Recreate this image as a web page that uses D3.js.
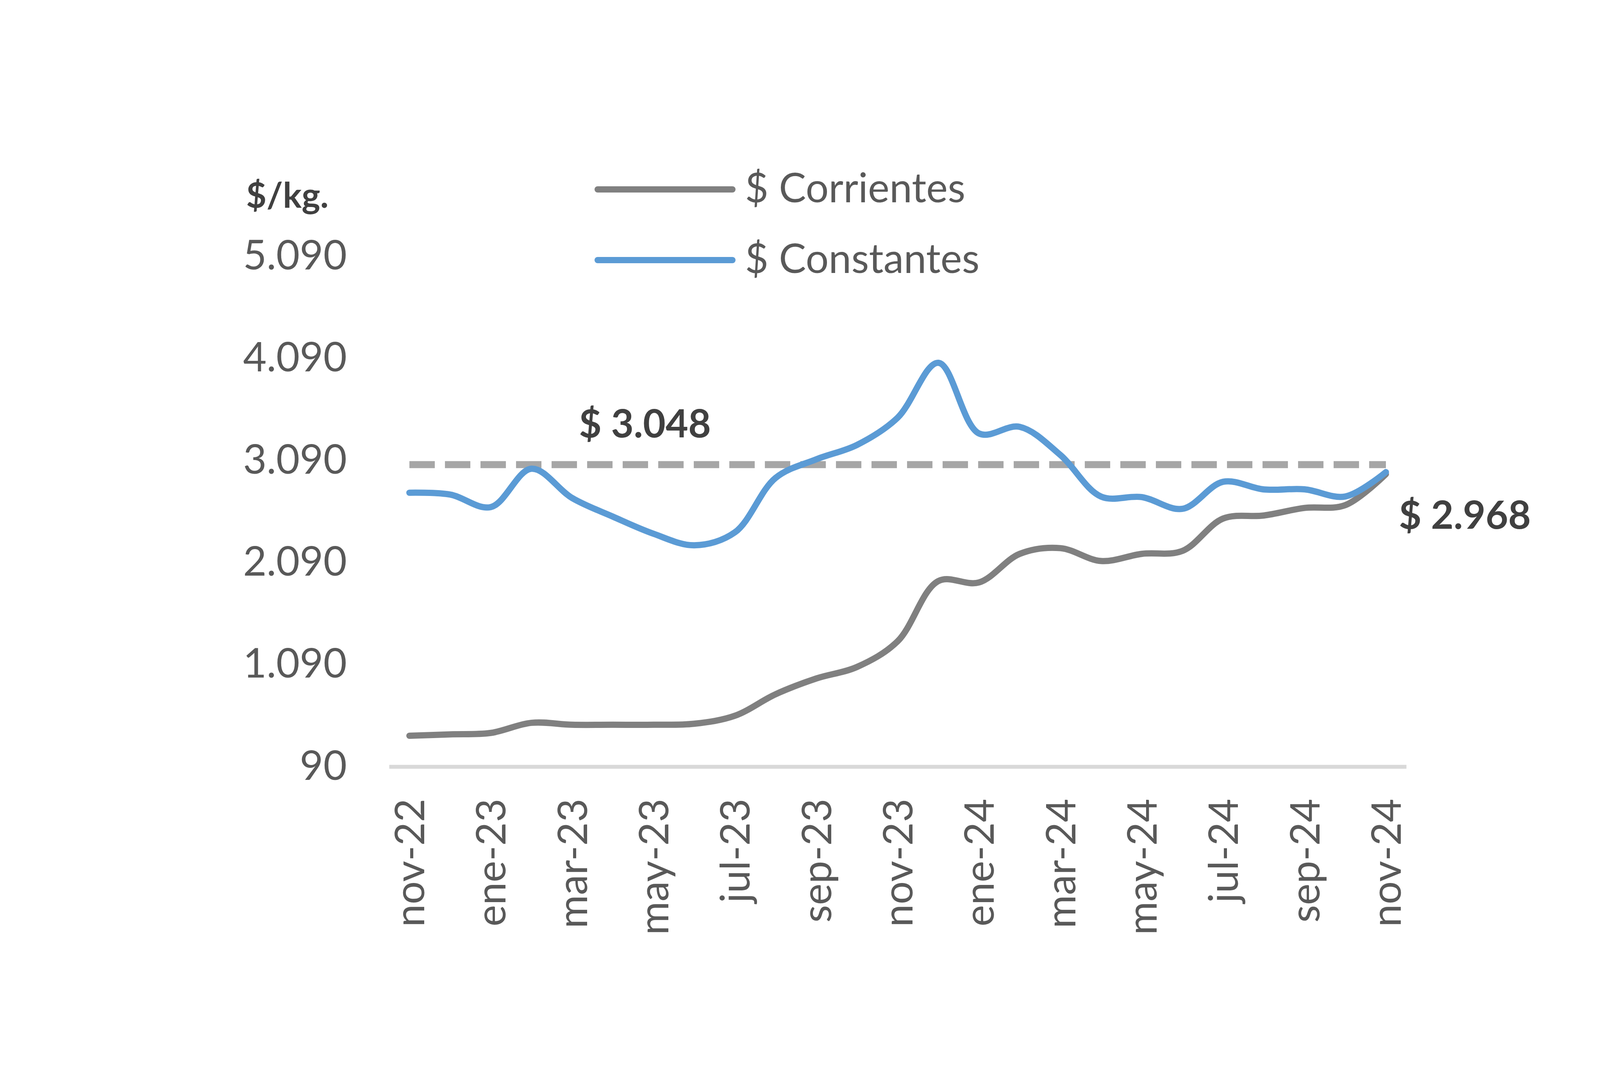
<!DOCTYPE html>
<html>
<head>
<meta charset="utf-8">
<script src="https://cdn.jsdelivr.net/npm/d3@7"></script>
<style>
  html, body { margin: 0; padding: 0; background: #ffffff; }
  .vis-linechart text { font-family: Lato, "Open Sans", sans-serif; }
</style>
</head>
<body>
<div class="vis-linechart"></div>
<script>
// months shown on the category axis
const months = ['nov-22', 'dic-22', 'ene-23', 'feb-23', 'mar-23', 'abr-23', 'may-23', 'jun-23',
    'jul-23', 'ago-23', 'sep-23', 'oct-23', 'nov-23', 'dic-23', 'ene-24', 'feb-24', 'mar-24',
    'abr-24', 'may-24', 'jun-24', 'jul-24', 'ago-24', 'sep-24', 'oct-24', 'nov-24'];
const monthTicks = ['nov-22', 'ene-23', 'mar-23', 'may-23', 'jul-23', 'sep-23', 'nov-23',
    'ene-24', 'mar-24', 'may-24', 'jul-24', 'sep-24', 'nov-24'];

// $/kg
const corrientes = [392, 406, 420, 519, 500, 500, 500, 510, 588, 799, 953, 1066, 1318, 1908,
    1894, 2174, 2230, 2104, 2174, 2203, 2520, 2550, 2624, 2651, 2955];
const constantes = [2773, 2755, 2632, 3008, 2721, 2539, 2371, 2258, 2385, 2918, 3100, 3241,
    3508, 4046, 3353, 3418, 3142, 2735, 2730, 2615, 2880, 2805, 2806, 2736, 2975];

const promedio = 3048;
const ultimo = 2968;
const yTicks = [90, 1090, 2090, 3090, 4090, 5090];

const seriesNames = ['$ Corrientes', '$ Constantes'];
const seriesColors = ['#808080', '#5b9bd5'];

const width = 4500;
const height = 2786;

const svg = d3.select('.vis-linechart')
    .append('svg')
    .attr('width', width)
    .attr('height', height);

svg.append('rect')
    .attr('width', width)
    .attr('height', height)
    .attr('fill', '#ffffff');

const locale = d3.formatLocale({ decimal: ',', thousands: '.', grouping: [3], currency: ['$', ''] });
const fmt = locale.format(',');

// X channel
let x = d3.scalePoint()
    .domain(months)
    .range([996, 3600])
    .padding(0.5);

// Y channel
let y = d3.scaleLinear()
    .domain([90, 5090])
    .range([1963, 656]);

// x axis (line + rotated month labels)
let xAxis = svg.append('g')
    .attr('class', 'x_axis')
    .attr('transform', 'translate(0,' + y(90) + ')')
    .call(d3.axisBottom(x).tickValues(monthTicks).tickSize(0).tickSizeOuter(0));
xAxis.select('.domain')
    .attr('stroke', '#d9d9d9')
    .attr('stroke-width', 10);
xAxis.selectAll('text')
    .attr('transform', 'rotate(-90)')
    .attr('x', -82)
    .attr('y', 0)
    .attr('dy', '0.36em')
    .style('text-anchor', 'end')
    .attr('font-size', '104px')
    .attr('fill', '#595959');

// y axis, labels only
let yAxis = svg.append('g')
    .attr('class', 'y_axis')
    .attr('transform', 'translate(888,0)')
    .call(d3.axisLeft(y).tickValues(yTicks).tickSize(0).tickPadding(0).tickFormat(fmt));
yAxis.select('.domain').remove();
yAxis.selectAll('text')
    .attr('font-size', '104px')
    .attr('fill', '#595959');

svg.append('text')
    .attr('x', 630)
    .attr('y', 532)
    .attr('font-size', '90px')
    .attr('font-weight', 'bold')
    .attr('fill', '#404040')
    .text('$/kg.');

// reference line (average)
let refLine = d3.line()
    .x(d => x(d.m))
    .y(d => y(d.v));
svg.append('path')
    .datum([{ m: months[0], v: promedio }, { m: months[months.length - 1], v: promedio }])
    .attr('d', refLine)
    .attr('fill', 'none')
    .attr('stroke', '#a6a6a6')
    .attr('stroke-width', 18)
    .attr('stroke-dasharray', '65,26');

// series lines
let line = d3.line()
    .x((d, i) => x(months[i]))
    .y(d => y(d))
    .curve(d3.curveCatmullRom.alpha(0.5));

[corrientes, constantes].forEach((s, i) => {
    svg.append('path')
        .datum(s)
        .attr('d', line)
        .attr('fill', 'none')
        .attr('stroke', seriesColors[i])
        .attr('stroke-width', 16)
        .attr('stroke-linecap', 'round')
        .attr('stroke-linejoin', 'round');
});

// value labels
svg.append('text')
    .attr('x', x('may-23') - 22)
    .attr('y', y(promedio) - 70)
    .attr('text-anchor', 'middle')
    .attr('font-size', '100px')
    .attr('font-weight', 'bold')
    .attr('fill', '#404040')
    .text('$ ' + fmt(promedio));

svg.append('text')
    .attr('x', x('nov-24') + 33)
    .attr('y', y(ultimo) + 143)
    .attr('font-size', '100px')
    .attr('font-weight', 'bold')
    .attr('fill', '#404040')
    .text('$ ' + fmt(ultimo));

// legend
let legend = svg.selectAll('.legend')
    .data(seriesNames)
    .enter()
    .append('g')
    .attr('class', 'legend')
    .attr('transform', (d, i) => 'translate(1530,' + (485 + i * 181) + ')');
legend.append('line')
    .attr('x1', 0)
    .attr('x2', 345)
    .attr('stroke', (d, i) => seriesColors[i])
    .attr('stroke-width', 16)
    .attr('stroke-linecap', 'round');
legend.append('text')
    .attr('x', 377)
    .attr('dy', '0.32em')
    .attr('font-size', '104px')
    .attr('fill', '#595959')
    .text(d => d);
</script>
</body>
</html>
